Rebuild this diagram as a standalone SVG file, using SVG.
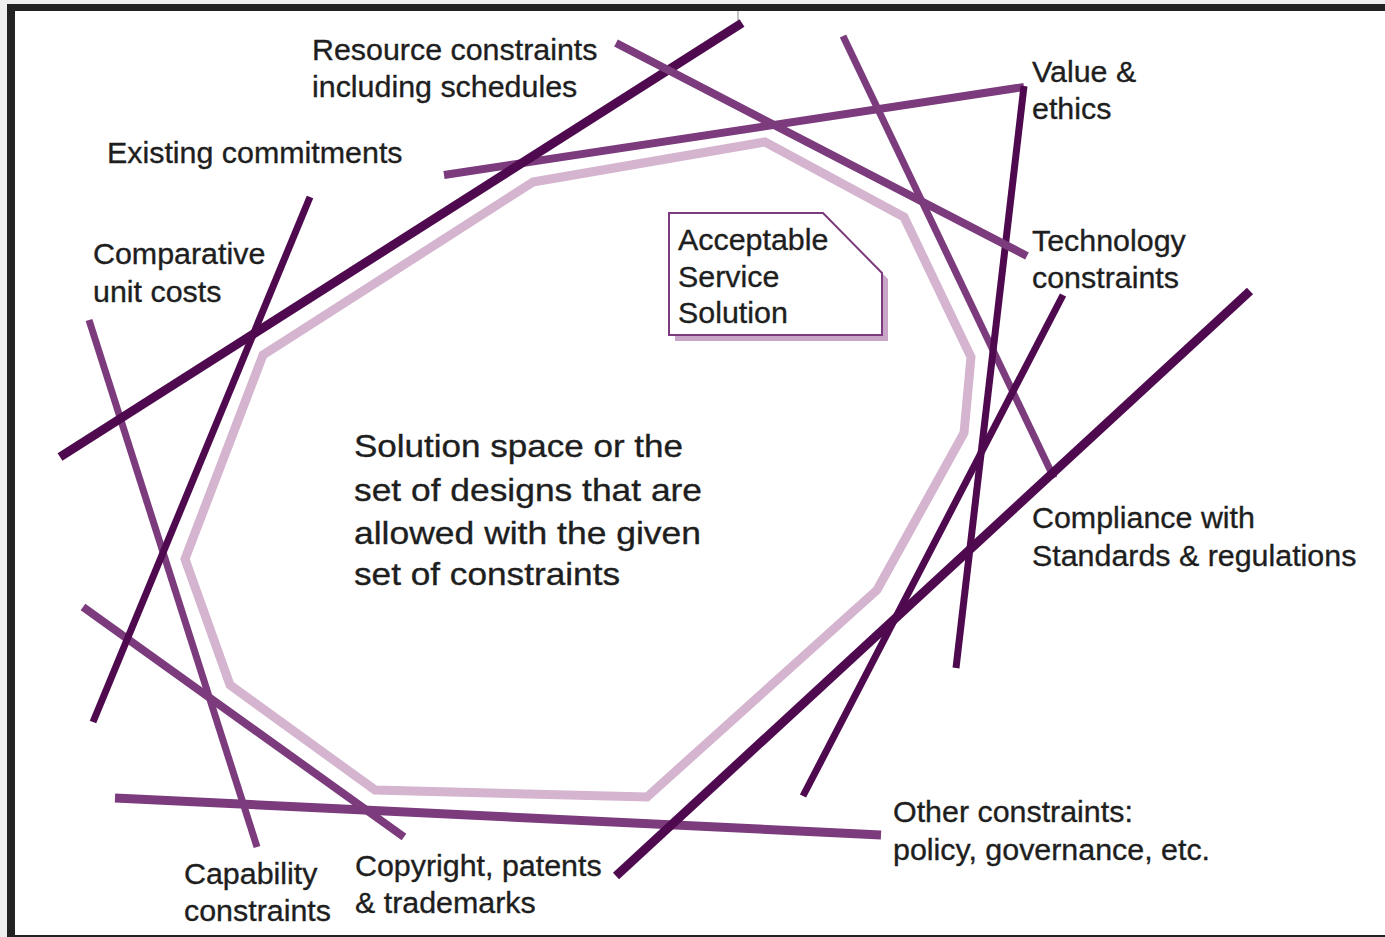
<svg xmlns="http://www.w3.org/2000/svg" width="1385" height="937" viewBox="0 0 1385 937">
<style>
.lbl{font-family:"Liberation Sans",Arial,sans-serif;font-size:30.4px;fill:#1e1e1e;stroke:#1e1e1e;stroke-width:0.35}
.ctr{font-family:"Liberation Sans",Arial,sans-serif;font-size:32px;fill:#1e1e1e;stroke:#1e1e1e;stroke-width:0.35}
.dk{stroke:#4f0a4f;fill:none;stroke-linecap:butt}
.md{stroke:#7b3b7c;fill:none;stroke-linecap:butt}
</style>
<rect x="0" y="0" width="1385" height="937" fill="#ffffff"/>
<rect x="0" y="0" width="1385" height="4" fill="#efefef"/>
<rect x="0" y="0" width="7" height="937" fill="#efefef"/>
<rect x="7" y="4" width="1378" height="7" fill="#222222"/>
<rect x="7" y="4" width="8" height="933" fill="#222222"/>
<rect x="7" y="935" width="1378" height="2" fill="#222222"/>
<line x1="738" y1="11" x2="738" y2="20" stroke="#888" stroke-width="1"/>

<g id="solution-space">
<polygon points="533,182 765,142 904,217 971,357 964,433 877,590 647,797 375,790 230,685 185,559 263,355" fill="none" stroke="#d4b4cf" stroke-width="9" stroke-linejoin="miter"/>
</g>

<g id="connectors">
<line class="md" x1="444" y1="175" x2="1024" y2="87" stroke-width="8"/>
<line class="md" x1="89" y1="320" x2="257" y2="847" stroke-width="7"/>
<line class="md" x1="843" y1="36" x2="1054" y2="478" stroke-width="7"/>
<line class="md" x1="115" y1="798" x2="881" y2="835" stroke-width="9"/>
<line class="md" x1="83" y1="607" x2="404" y2="837" stroke-width="8"/>
<line class="dk" x1="60" y1="457" x2="742" y2="23" stroke-width="9"/>
<line class="dk" x1="310" y1="197" x2="93" y2="722" stroke-width="7"/>
<line class="dk" x1="1024" y1="86" x2="956" y2="668" stroke-width="7"/>
<line class="dk" x1="1063" y1="295" x2="803" y2="796" stroke-width="7"/>
<line class="dk" x1="1250" y1="291" x2="616" y2="876" stroke-width="9"/>
<line class="md" x1="616" y1="43" x2="1027" y2="256" stroke-width="8"/>
</g>

<g id="acceptable-service-solution">
<polygon points="675,219 829,219 888,279 888,341 675,341" fill="#c9a5c8"/>
<polygon points="669,213 823,213 882,273 882,335 669,335" fill="#ffffff" stroke="#7b3b7c" stroke-width="2"/>
<text class="lbl" x="678" y="250">Acceptable</text>
<text class="lbl" x="678" y="287">Service</text>
<text class="lbl" x="678" y="323">Solution</text>
</g>

<g id="center-text">
<text class="ctr" x="354" y="457" textLength="329" lengthAdjust="spacingAndGlyphs">Solution space or the</text>
<text class="ctr" x="354" y="501" textLength="348" lengthAdjust="spacingAndGlyphs">set of designs that are</text>
<text class="ctr" x="354" y="544" textLength="347" lengthAdjust="spacingAndGlyphs">allowed with the given</text>
<text class="ctr" x="354" y="585" textLength="266" lengthAdjust="spacingAndGlyphs">set of constraints</text>
</g>

<g id="resource-constraints">
<text class="lbl" x="312" y="60">Resource constraints</text>
<text class="lbl" x="312" y="97">including schedules</text>
</g>
<g id="existing-commitments">
<text class="lbl" x="107" y="163">Existing commitments</text>
</g>
<g id="comparative-unit-costs">
<text class="lbl" x="93" y="264">Comparative</text>
<text class="lbl" x="93" y="302">unit costs</text>
</g>
<g id="value-ethics">
<text class="lbl" x="1032" y="82">Value &amp;</text>
<text class="lbl" x="1032" y="119">ethics</text>
</g>
<g id="technology-constraints">
<text class="lbl" x="1032" y="251">Technology</text>
<text class="lbl" x="1032" y="288">constraints</text>
</g>
<g id="compliance">
<text class="lbl" x="1032" y="528">Compliance with</text>
<text class="lbl" x="1032" y="566">Standards &amp; regulations</text>
</g>
<g id="other-constraints">
<text class="lbl" x="893" y="822">Other constraints:</text>
<text class="lbl" x="893" y="860">policy, governance, etc.</text>
</g>
<g id="capability-constraints">
<text class="lbl" x="184" y="884">Capability</text>
<text class="lbl" x="184" y="921">constraints</text>
</g>
<g id="copyright">
<text class="lbl" x="355" y="876">Copyright, patents</text>
<text class="lbl" x="355" y="913">&amp; trademarks</text>
</g>
</svg>
